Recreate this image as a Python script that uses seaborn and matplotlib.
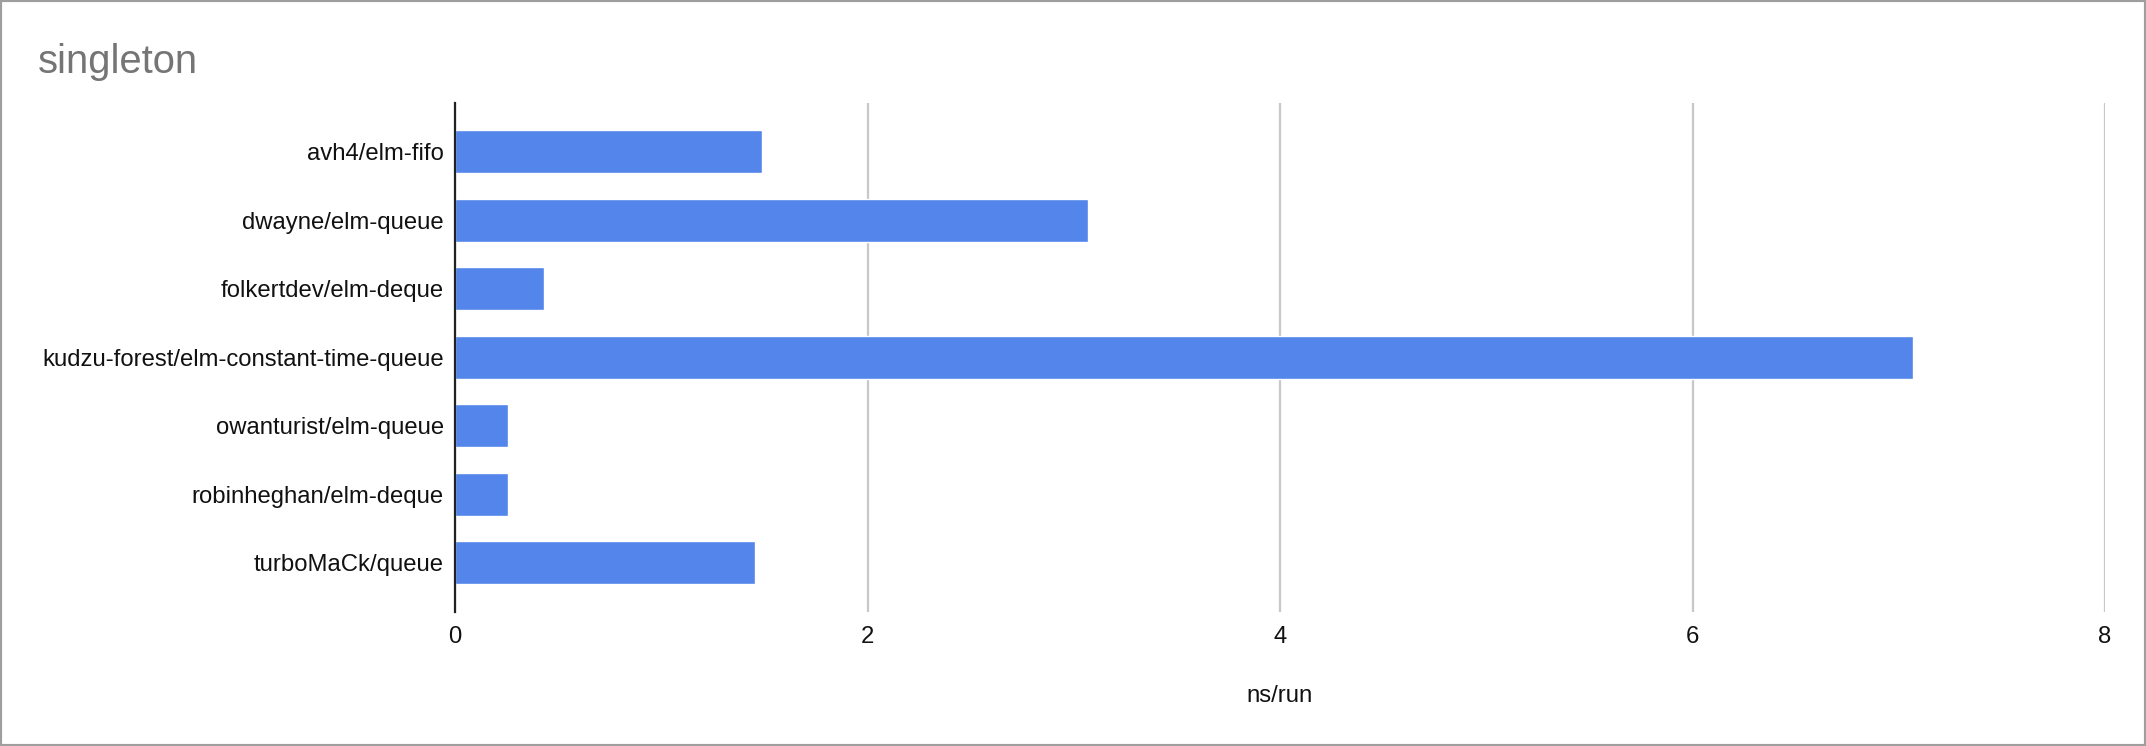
import seaborn as sns
import matplotlib.pyplot as plt
import pandas as pd
from matplotlib.patches import Rectangle

# data
packages = [
    "avh4/elm-fifo",
    "dwayne/elm-queue",
    "folkertdev/elm-deque",
    "kudzu-forest/elm-constant-time-queue",
    "owanturist/elm-queue",
    "robinheghan/elm-deque",
    "turboMaCk/queue",
]
ns_per_run = [1.49, 3.07, 0.43, 7.07, 0.255, 0.255, 1.455]
x_ticks = [0, 2, 4, 6, 8]

df = pd.DataFrame({"package": packages, "ns/run": ns_per_run})

sns.set_theme(style="white")
plt.rcParams["font.family"] = ["Liberation Sans", "DejaVu Sans"]

fig = plt.figure(figsize=(21.46, 7.46), dpi=100)
ax = fig.add_axes([455 / 2146, 1 - 612 / 746, (2105 - 455) / 2146, (612 - 102.6) / 746])

sns.barplot(data=df, x="ns/run", y="package", orient="h", color="#5385eb",
            saturation=1, width=0.63, ax=ax, zorder=3)

ax.set_xlim(0, 8)
ax.set_ylim(6.72, -0.72)
ax.set_xticks(x_ticks)
ax.set_xticklabels([str(t) for t in x_ticks])
ax.grid(axis="x", color="#c8c8c8", linewidth=1.6, zorder=0)
ax.grid(axis="y", visible=False)

for side in ["top", "right", "bottom"]:
    ax.spines[side].set_visible(False)
ax.spines["left"].set_color("#222222")
ax.spines["left"].set_linewidth(1.6)
ax.spines["left"].set_zorder(4)

ax.tick_params(axis="both", length=0, labelsize=17.2, colors="#111111")
ax.tick_params(axis="y", pad=8)
ax.tick_params(axis="x", pad=10)
ax.set_ylabel("")
ax.set_xlabel("ns/run", fontsize=17.2, color="#111111", labelpad=27)

fig.text(38 / 2146, 1 - 62 / 746, "singleton", fontsize=28.8, color="#757575",
         ha="left", va="center")

# gray frame around the chart
fig.patches.append(Rectangle((0, 0), 1, 1, transform=fig.transFigure,
                             fill=False, edgecolor="#9e9e9e", linewidth=3))

fig.savefig("out.png", dpi=100)
